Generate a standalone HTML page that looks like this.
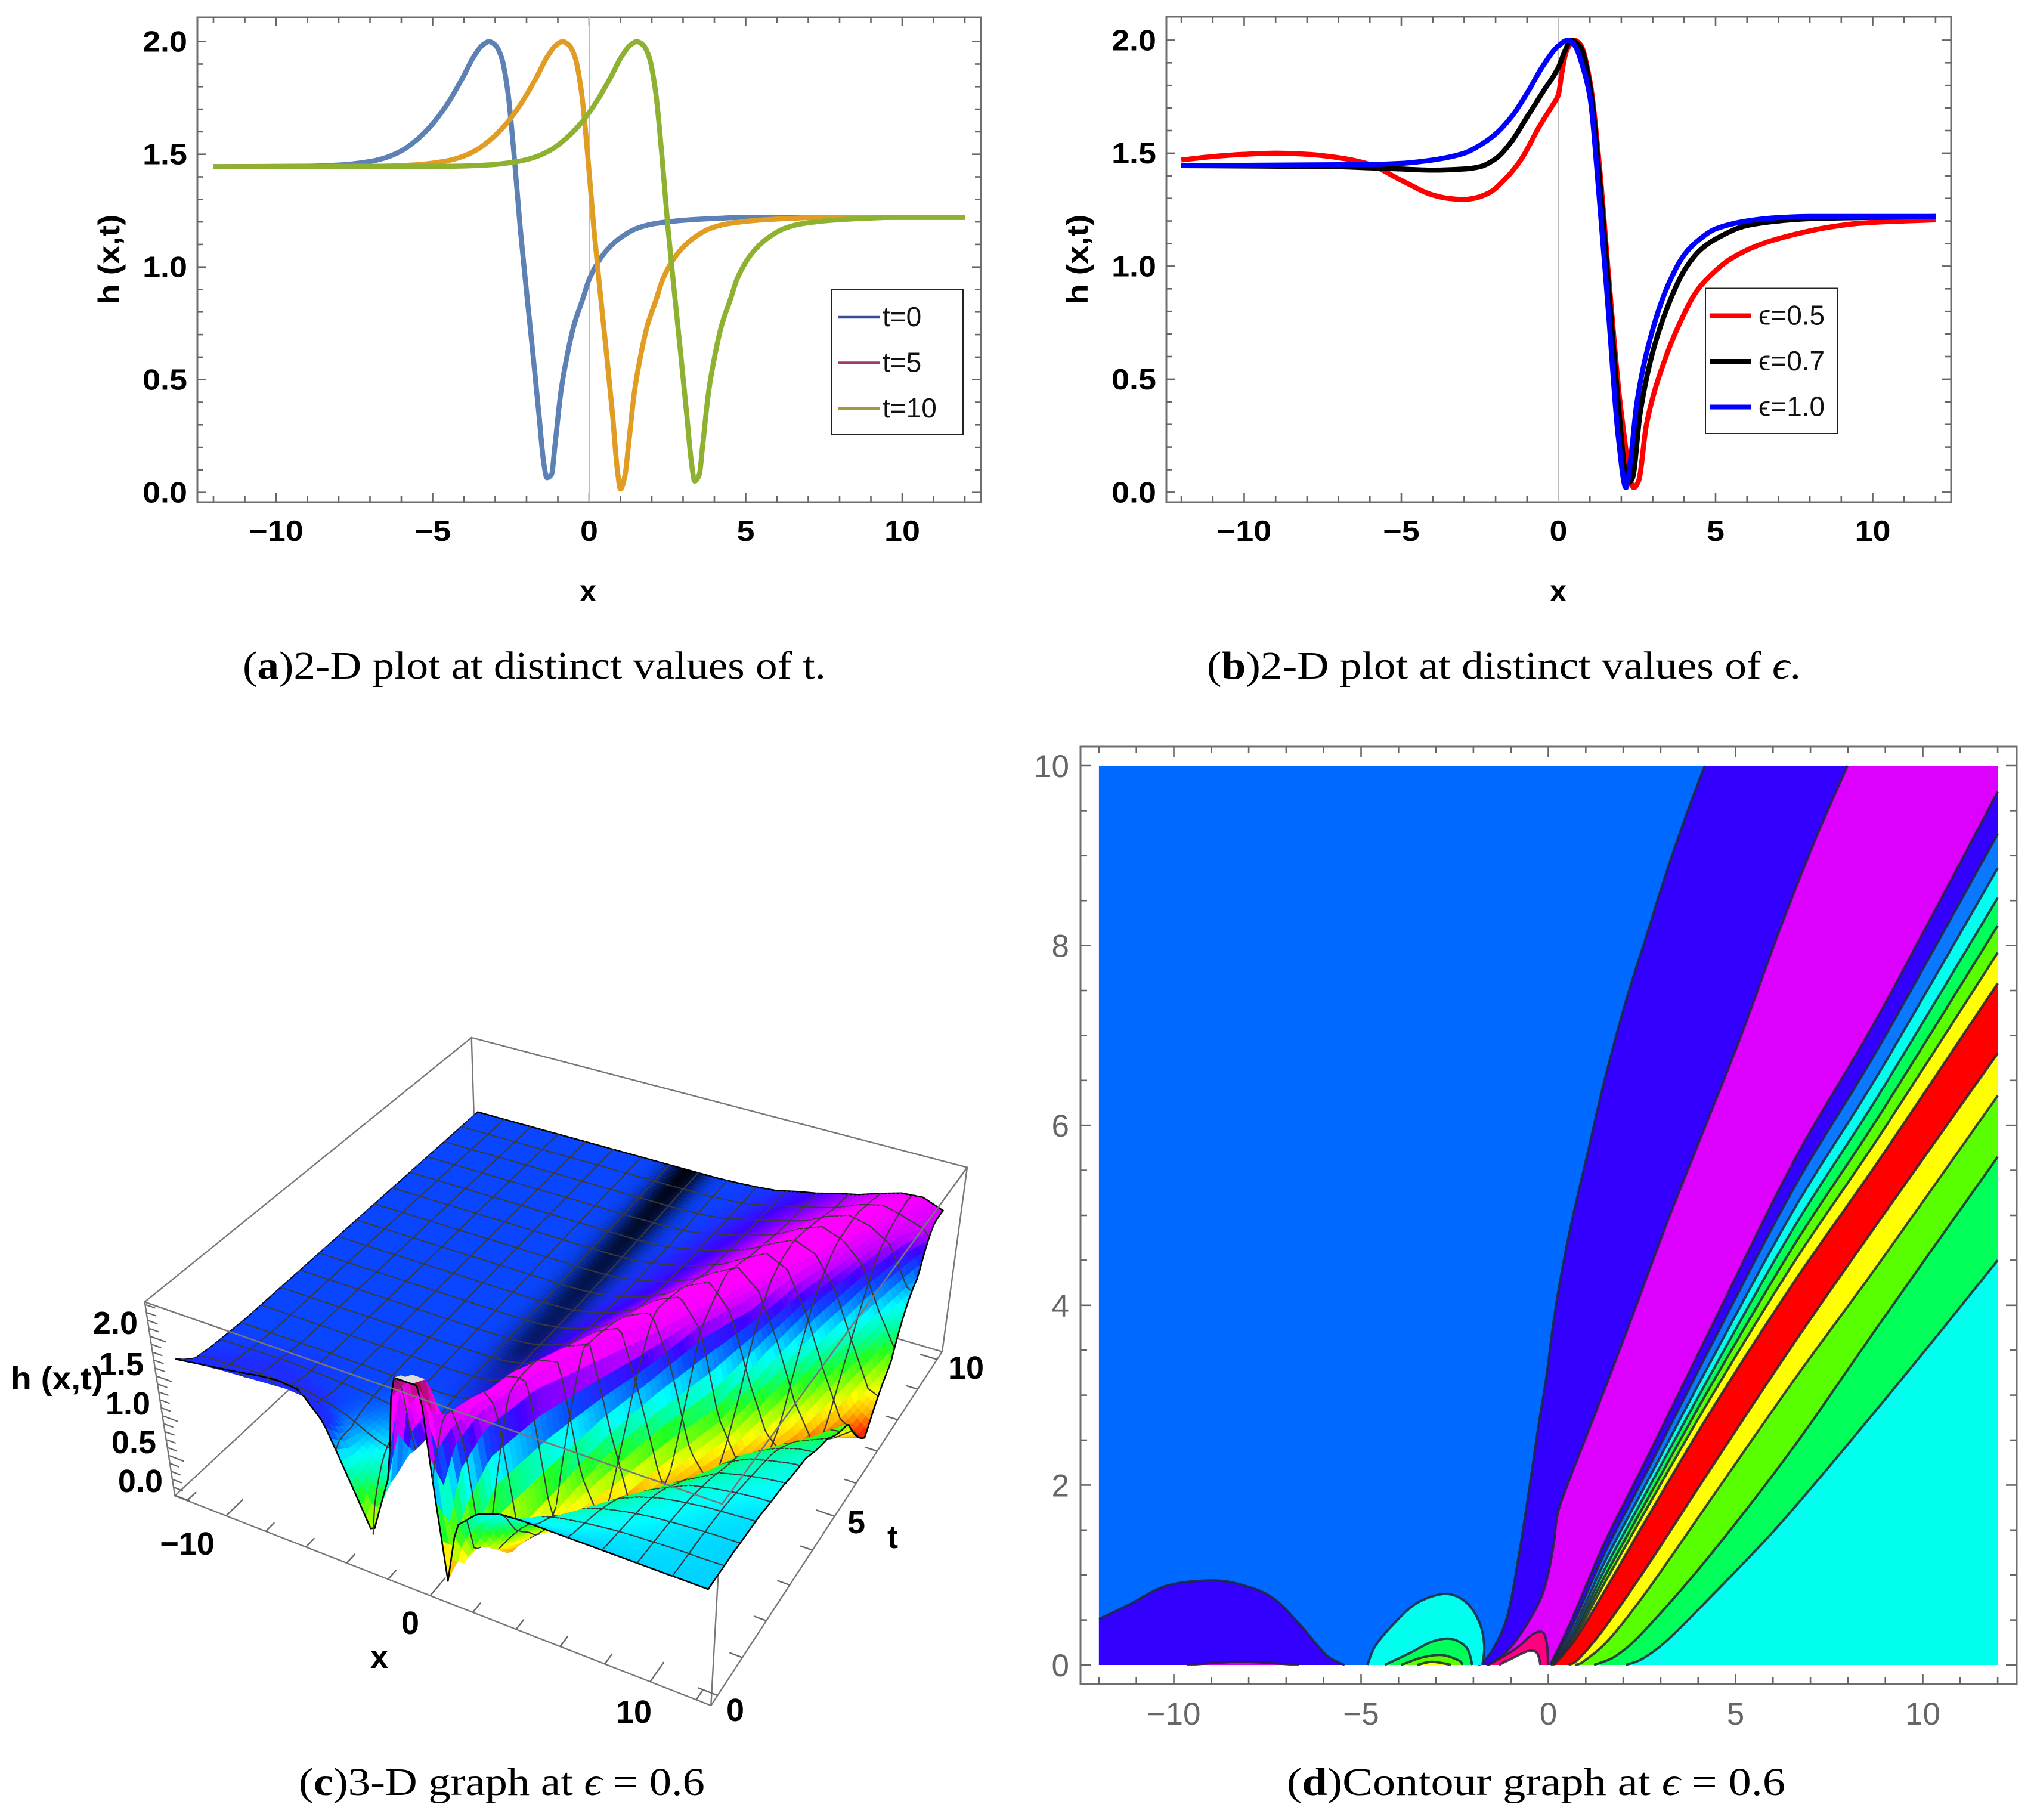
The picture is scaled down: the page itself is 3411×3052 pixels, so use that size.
<!DOCTYPE html>
<html lang="en"><head><meta charset="utf-8"><title>h(x,t) solution plots</title>
<style>
html,body{margin:0;padding:0;background:#fff}
svg{display:block}
.sb{font-family:"Liberation Sans",sans-serif;font-weight:700;fill:#000}
.sr{font-family:"Liberation Sans",sans-serif;fill:#111}
.cap{font-family:"Liberation Serif",serif;font-size:66px;fill:#000}
</style></head><body>
<svg id="root" xmlns="http://www.w3.org/2000/svg" width="3411" height="3052" viewBox="0 0 3411 3052">
<rect width="3411" height="3052" fill="#fff"/>
<g id="panelA">
  <text class="sb" font-size="50" text-anchor="middle" x="986" y="1008">x</text>
  <text class="sb" font-size="50" text-anchor="middle" textLength="151" lengthAdjust="spacingAndGlyphs" transform="translate(200,435) rotate(-90)">h (x,t)</text>
</g>
<g id="panelB">
  <text class="sb" font-size="50" text-anchor="middle" x="2613" y="1008">x</text>
  <text class="sb" font-size="50" text-anchor="middle" textLength="151" lengthAdjust="spacingAndGlyphs" transform="translate(1824,435) rotate(-90)">h (x,t)</text>
</g>
<g id="panelC"></g>
<g id="panelCText">
  <text class="sb" font-size="54" text-anchor="end" x="231" y="2237">2.0</text>
  <text class="sb" font-size="54" text-anchor="end" x="241" y="2306">1.5</text>
  <text class="sb" font-size="54" text-anchor="end" x="252" y="2372">1.0</text>
  <text class="sb" font-size="54" text-anchor="end" x="262" y="2437">0.5</text>
  <text class="sb" font-size="54" text-anchor="end" x="273" y="2502">0.0</text>
  <text class="sb" font-size="54" x="18" y="2330" textLength="155" lengthAdjust="spacingAndGlyphs">h (x,t)</text>
  <text class="sb" font-size="54" text-anchor="middle" x="314" y="2607">−10</text>
  <text class="sb" font-size="54" text-anchor="middle" x="688" y="2740">0</text>
  <text class="sb" font-size="54" text-anchor="middle" x="1063" y="2889">10</text>
  <text class="sb" font-size="54" text-anchor="middle" x="636" y="2797">x</text>
  <text class="sb" font-size="54" text-anchor="middle" x="1233" y="2886">0</text>
  <text class="sb" font-size="54" text-anchor="middle" x="1436" y="2571">5</text>
  <text class="sb" font-size="54" text-anchor="middle" x="1620" y="2312">10</text>
  <text class="sb" font-size="54" text-anchor="middle" x="1497" y="2596">t</text>
</g>
<g id="panelD"></g>
<text class="cap" x="407" y="1138" textLength="978" lengthAdjust="spacingAndGlyphs">(<tspan font-weight="700">a</tspan>)2-D plot at distinct values of t.</text>
<text class="cap" x="2024" y="1138" textLength="996" lengthAdjust="spacingAndGlyphs">(<tspan font-weight="700">b</tspan>)2-D plot at distinct values of <tspan font-style="italic">ϵ</tspan>.</text>
<text class="cap" x="501" y="3010" textLength="681" lengthAdjust="spacingAndGlyphs">(<tspan font-weight="700">c</tspan>)3-D graph at <tspan font-style="italic">ϵ</tspan> = 0.6</text>
<text class="cap" x="2158" y="3010" textLength="836" lengthAdjust="spacingAndGlyphs">(<tspan font-weight="700">d</tspan>)Contour graph at <tspan font-style="italic">ϵ</tspan> = 0.6</text>
</svg>
<script>
/* ---------- panel (a) series ---------- */
const t0X=[-12,-9,-8,-7,-6.5,-6,-5.5,-5,-4.5,-4,-3.7,-3.4,-3.2,-3,-2.8,-2.6,-2.4,-2.2,-2,-1.8,-1.6,-1.45,-1.35,-1.2,-1.1,-.9,-.7,-.5,-.2,0,.3,.6,1,1.5,2,2.5,3,4,5,7,12];
const t0Y=[1.445,1.447,1.452,1.468,1.485,1.515,1.565,1.635,1.73,1.85,1.93,1.985,2,1.985,1.93,1.78,1.5,1.17,.89,.62,.34,.13,.065,.08,.2,.45,.61,.735,.86,.945,1.025,1.08,1.13,1.17,1.19,1.2,1.207,1.215,1.22,1.22,1.22];
const t5X=[-12,-6.65,-5.65,-4.65,-4.15,-3.65,-3.15,-2.65,-2.15,-1.65,-1.35,-1.05,-.85,-.65,-.45,-.25,-.05,.15,.35,.55,.75,.9,1,1.15,1.25,1.45,1.65,1.85,2.15,2.35,2.65,2.95,3.35,3.85,4.35,4.85,5.35,6.35,7.35,9.35,12];
const t5Y=[1.445,1.447,1.452,1.468,1.485,1.515,1.565,1.635,1.73,1.85,1.93,1.985,2,1.985,1.93,1.78,1.5,1.17,.89,.62,.34,.1,.015,.08,.2,.45,.61,.735,.86,.945,1.025,1.08,1.13,1.17,1.19,1.2,1.207,1.215,1.22,1.22,1.22];
const t10X=[-12,-4.28,-3.28,-2.28,-1.78,-1.28,-.78,-.28,.22,.72,1.02,1.32,1.52,1.72,1.92,2.12,2.32,2.52,2.72,2.92,3.12,3.27,3.37,3.52,3.62,3.82,4.02,4.22,4.52,4.72,5.02,5.32,5.72,6.22,6.72,7.22,7.72,8.72,9.72,12];
const t10Y=[1.445,1.447,1.452,1.468,1.485,1.515,1.565,1.635,1.73,1.85,1.93,1.985,2,1.985,1.93,1.78,1.5,1.17,.89,.62,.34,.13,.05,.08,.2,.45,.61,.735,.86,.945,1.025,1.08,1.13,1.17,1.19,1.2,1.207,1.215,1.22,1.22];

/* ---------- panel (b) series ---------- */
const eps05X=[-12,-11,-10,-9,-8,-7,-6,-5,-4,-3.5,-3,-2.7,-2.2,-1.7,-1.2,-.6,-.2,0,.1,.25,.5,.7,1,1.3,1.6,2,2.4,2.55,2.8,3.37,3.9,4.4,5,5.45,6.5,7.5,8.5,9.6,11,12];
const eps05Y=[1.47,1.485,1.495,1.5,1.495,1.48,1.45,1.38,1.315,1.3,1.295,1.3,1.325,1.385,1.47,1.62,1.71,1.76,1.85,1.95,2,1.98,1.82,1.45,.95,.35,.02,.05,.3,.58,.76,.89,.98,1.03,1.1,1.14,1.17,1.19,1.2,1.205];
const eps07X=[-12,-7,-6,-5,-4,-3,-2.5,-2,-1.5,-1,-.5,0,.2,.4,.7,1,1.3,1.6,1.9,2.2,2.35,2.6,3,3.5,4,4.5,5,6,7,8,12];
const eps07Y=[1.445,1.44,1.435,1.43,1.425,1.43,1.44,1.475,1.55,1.66,1.77,1.88,1.95,2,1.97,1.8,1.4,.9,.4,.04,.06,.35,.62,.83,.98,1.07,1.12,1.18,1.2,1.21,1.22];
const eps10X=[-12,-6,-5,-4,-3,-2.5,-2,-1.5,-1,-.5,0,.3,.5,.8,1,1.3,1.6,1.9,2.15,2.3,2.5,3,3.5,4,4.5,5,6,7,8,12];
const eps10Y=[1.445,1.45,1.455,1.47,1.5,1.535,1.585,1.66,1.765,1.885,1.975,2,1.98,1.87,1.75,1.3,.78,.25,.02,.15,.4,.72,.92,1.05,1.12,1.165,1.2,1.215,1.22,1.22];

/* ---------- shared 2-D tick values ---------- */
const lineXTicks=[-12,-11,-10,-9,-8,-7,-6,-5,-4,-3,-2,-1,0,1,2,3,4,5,6,7,8,9,10,11,12];
const lineYTicks=[0,.1,.2,.3,.4,.5,.6,.7,.8,.9,1,1.1,1.2,1.3,1.4,1.5,1.6,1.7,1.8,1.9,2];
const lineXLabels=[-10,-5,0,5,10];
const lineYLabels=[0,.5,1,1.5,2];
const legendA=["t=0","t=5","t=10"];
const legendB=["ϵ=0.5","ϵ=0.7","ϵ=1.0"];

/* ---------- panel (c) surface: h(x,t) levels ---------- */
const surfaceX=[-12,-11,-10,-9,-8,-7,-6,-5,-4,-3,-2,-1.6,-1,-.4,0,.5,1,2,3,4,5,6,7,8,9,10,11,12];
const surfaceT=[0,.2,.5,1,2,3,4,5,6,7,8,9,10];
const surfaceRidge=[-.5,-.2,0,.5,1.5,2.6,3.7,4.9,6,7,8,9,10.8];
const surfaceLevels=[
[1.68,1.72,1.76,1.8,1.85,1.88,1.85,1.55,.95,.35,1.2,2.5,2.5,2.5,1.3,.12,.85,1.1,1.2,1.22,1.22,1.22,1.22,1.22,1.22,1.22,1.22,1.22],
[1.6,1.62,1.64,1.66,1.68,1.7,1.68,1.5,1.15,.8,1.1,2.2,2.5,2.5,1.6,.5,.3,.8,1.08,1.14,1.16,1.18,1.2,1.2,1.21,1.21,1.22,1.22],
[1.5,1.52,1.54,1.55,1.56,1.56,1.5,1.4,1.24,1.12,1.2,1.3,1.55,1.85,1.92,1.5,.45,.45,.8,1.05,1.1,1.14,1.17,1.19,1.2,1.21,1.21,1.22],
[1.47,1.48,1.49,1.5,1.49,1.47,1.45,1.43,1.38,1.3,1.38,1.42,1.47,1.62,1.75,1.97,1.8,.15,.55,.78,1,1.07,1.12,1.16,1.18,1.2,1.21,1.22],
[1.44,1.44,1.44,1.44,1.44,1.44,1.44,1.44,1.44,1.445,1.45,1.455,1.47,1.53,1.62,1.72,1.95,1.97,.45,.22,.6,.85,.98,1.07,1.12,1.16,1.18,1.2],
[1.44,1.44,1.44,1.44,1.44,1.44,1.44,1.44,1.44,1.445,1.45,1.452,1.46,1.485,1.51,1.58,1.68,1.92,2.03,.97,.12,.45,.68,.82,.98,1.05,1.1,1.14],
[1.44,1.44,1.44,1.44,1.44,1.44,1.44,1.44,1.44,1.44,1.445,1.448,1.455,1.47,1.49,1.53,1.58,1.7,1.92,2.05,1.3,.38,.12,.5,.8,.93,1,1.06],
[1.44,1.44,1.44,1.44,1.44,1.44,1.44,1.44,1.44,1.44,1.44,1.442,1.445,1.45,1.46,1.49,1.52,1.6,1.73,1.94,2.06,1.72,.7,.22,.27,.62,.76,.88],
[1.44,1.44,1.44,1.44,1.44,1.44,1.44,1.44,1.44,1.44,1.44,1.44,1.44,1.445,1.45,1.465,1.48,1.54,1.62,1.74,1.92,2.06,1.8,1.2,.5,.1,.38,.65],
[1.44,1.44,1.44,1.44,1.44,1.44,1.44,1.44,1.44,1.44,1.44,1.44,1.44,1.44,1.445,1.45,1.46,1.51,1.57,1.65,1.75,1.9,2.05,1.94,1.48,.85,.27,.05],
[1.44,1.44,1.44,1.44,1.44,1.44,1.44,1.44,1.44,1.44,1.44,1.44,1.44,1.44,1.44,1.445,1.45,1.47,1.53,1.59,1.67,1.77,1.92,2.03,1.93,1.67,1.12,.6],
[1.44,1.44,1.44,1.44,1.44,1.44,1.44,1.44,1.44,1.44,1.44,1.44,1.44,1.44,1.44,1.44,1.445,1.455,1.49,1.55,1.62,1.68,1.75,1.88,1.97,1.92,1.79,1.33],
[1.44,1.44,1.44,1.44,1.44,1.44,1.44,1.44,1.44,1.44,1.44,1.44,1.44,1.44,1.44,1.44,1.44,1.45,1.465,1.49,1.55,1.6,1.67,1.73,1.82,1.9,1.92,1.82]
];
const surfaceXTicks=[-12,-10,-8,-6,-4,-2,0,2,4,6,8,10,12];
const surfaceXMajor=[-10,0,10];
const surfaceTTicks=[0,1,2,3,4,5,6,7,8,9,10];
const surfaceTMajor=[0,5,10];
const surfaceZTicks=[0,.1,.2,.3,.4,.5,.6,.7,.8,.9,1,1.1,1.2,1.3,1.4,1.5,1.6,1.7,1.8,1.9,2,2.1,2.2,2.3,2.4];
const surfaceZMajor=[0,.5,1,1.5,2];

/* ---------- panel (d) contours: [x,t] ---------- */
const contourBlueIndigo=[[4.18,10],[3.76,9.54],[3.19,8.86],[2.63,8.12],[2.07,7.38],[1.5,6.5],[1.05,5.69],[.63,4.94],[.34,4.33],[.13,3.79],[-.06,3.18],[-.27,2.64],[-.53,1.9],[-.81,1.16],[-1.09,.55],[-1.43,.21],[-1.72,.04],[-1.88,0]];
const contourIndigoMagenta=[[7.99,10],[7.15,9.2],[6.2,8.2],[5.15,7],[4.2,6],[3.19,4.94],[2.29,3.93],[1.61,3.18],[1.05,2.58],[.6,2.1],[.26,1.7],[.15,1.36],[0,1.02],[-.19,.75],[-.53,.48],[-.98,.21],[-1.43,.04],[-1.66,0]];
const contourMagentaIndigo=[[12,9.71],[8.84,7.24],[6.58,5.62],[4.32,3.73],[2.63,2.3],[1.5,1.36],[.6,.48],[.05,0]];
const contourIndigoBlue=[[12,9.24],[8.84,6.88],[6.58,5.32],[4.32,3.53],[2.63,2.15],[1.5,1.24],[.65,.44],[.06,0]];
const contourBlueCyan=[[12,8.86],[8.84,6.59],[6.58,5.08],[4.32,3.36],[2.63,2.03],[1.5,1.14],[.68,.4],[.07,0]];
const contourCyanGreen=[[12,8.53],[8.84,6.35],[6.58,4.88],[4.32,3.22],[2.63,1.93],[1.5,1.06],[.7,.37],[.09,0]];
const contourGreenLime=[[12,8.22],[8.84,6.11],[6.58,4.68],[4.32,3.09],[2.63,1.83],[1.5,.98],[.7,.34],[.11,0]];
const contourLimeYellow=[[12,7.92],[8.84,5.88],[6.58,4.49],[4.32,2.96],[2.63,1.74],[1.5,.91],[.71,.31],[.13,0]];
const contourYellowRed=[[12,7.58],[8.84,5.62],[6.58,4.27],[4.32,2.81],[2.63,1.63],[1.5,.82],[.71,.28],[.15,0]];
const contourRedYellow=[[12,6.8],[8.84,4.94],[6.58,3.59],[4.32,2.17],[2.63,1.09],[1.5,.41],[.82,.07],[.54,0]];
const contourYellowLime=[[12,6.33],[8.84,4.47],[6.58,3.18],[4.32,1.83],[2.63,.82],[1.61,.28],[.94,.04],[.71,0]];
const contourLimeGreen=[[12,5.65],[8.84,3.79],[6.58,2.44],[4.32,1.22],[2.63,.41],[1.84,.11],[1.22,0]];
const contourGreenCyan=[[12,4.5],[9.97,3.45],[7.71,2.31],[6.02,1.49],[4.32,.75],[3.19,.28],[2.52,.07],[2.07,0]];
const blobHump=[[-12,.51],[-11.2,.67],[-10.2,.88],[-9,.94],[-8.18,.89],[-7.37,.75],[-6.66,.46],[-6.15,.21],[-5.84,.08],[-5.44,0]];
const blobSliver=[[-9.65,0],[-8.2,.035],[-6.66,0]];
const blobCyan=[[-4.83,0],[-4.62,.21],[-4.12,.46],[-3.5,.69],[-2.74,.79],[-2.18,.69],[-1.83,.46],[-1.71,.21],[-1.76,0]];
const blobGreen=[[-4.37,0],[-3.71,.13],[-3.1,.26],[-2.59,.29],[-2.18,.19],[-2.03,0]];
const blobLime=[[-3.93,0],[-3.4,.08],[-2.85,.11],[-2.39,.05],[-2.29,0]];
const blobYellow=[[-3.5,0],[-3.1,.035],[-2.59,0]];
const blobPink=[[-1.6,0],[-1.43,.04],[-.87,.18],[-.42,.34],[-.14,.36],[-.03,.21],[-.01,0]];
const blobWhite=[[-1.32,0],[-.98,.07],[-.53,.155],[-.3,.13],[-.21,0]];
const contourXTicks=[-12,-11,-10,-9,-8,-7,-6,-5,-4,-3,-2,-1,0,1,2,3,4,5,6,7,8,9,10,11,12];
const contourTTicks=[0,.5,1,1.5,2,2.5,3,3.5,4,4.5,5,5.5,6,6.5,7,7.5,8,8.5,9,9.5,10];
const contourXLabels=[-10,-5,0,5,10];
const contourTLabels=[0,2,4,6,8,10];

const NS='http://www.w3.org/2000/svg';
function make(tag,parent){const e=document.createElementNS(NS,tag);parent.appendChild(e);return e;}
function fmtMinus(v){return String(v).replace('-','−');}
function smoothD(P){
  let d='M'+P[0][0].toFixed(1)+' '+P[0][1].toFixed(1);
  for(let i=0;i<P.length-1;i++){
    const a=P[Math.max(i-1,0)],b=P[i],c=P[i+1],e=P[Math.min(i+2,P.length-1)];
    d+=' C'+(b[0]+(c[0]-a[0])/6).toFixed(1)+' '+(b[1]+(c[1]-a[1])/6).toFixed(1)+' '+(c[0]-(e[0]-b[0])/6).toFixed(1)+' '+(c[1]-(e[1]-b[1])/6).toFixed(1)+' '+c[0].toFixed(1)+' '+c[1].toFixed(1);
  }
  return d;
}
/* shape-preserving curve through the points of a function graph */
function monoD(P){
  const n=P.length,h=[],s=[],m=new Array(n);
  for(let i=0;i<n-1;i++){h.push(P[i+1][0]-P[i][0]);s.push((P[i+1][1]-P[i][1])/h[i]);}
  m[0]=s[0];m[n-1]=s[n-2];
  for(let i=1;i<n-1;i++){
    if(s[i-1]*s[i]<=0){m[i]=0;}
    else{const w1=2*h[i]+h[i-1],w2=h[i]+2*h[i-1];m[i]=(w1+w2)/(w1/s[i-1]+w2/s[i]);}
  }
  let d='M'+P[0][0].toFixed(1)+' '+P[0][1].toFixed(1);
  for(let i=0;i<n-1;i++){
    d+=' C'+(P[i][0]+h[i]/3).toFixed(1)+' '+(P[i][1]+m[i]*h[i]/3).toFixed(1)+' '+(P[i+1][0]-h[i]/3).toFixed(1)+' '+(P[i+1][1]-m[i+1]*h[i]/3).toFixed(1)+' '+P[i+1][0].toFixed(1)+' '+P[i+1][1].toFixed(1);
  }
  return d;
}
function drawTick(g,x1,y1,x2,y2,w,col){
  const l=make('line',g);
  l.setAttribute('x1',x1);l.setAttribute('y1',y1);l.setAttribute('x2',x2);l.setAttribute('y2',y2);
  l.setAttribute('stroke',col||'#666');l.setAttribute('stroke-width',w||2.6);
  
  
}
function drawFrame(g,L,T,R,B,w){
  const r=make('rect',g);
  r.setAttribute('x',L);r.setAttribute('y',T);r.setAttribute('width',R-L);r.setAttribute('height',B-T);
  r.setAttribute('fill','none');r.setAttribute('stroke','#6e6e6e');r.setAttribute('stroke-width',w||3);
  
  
}
function drawLabel(g,x,y,s,anchor,size,cls,fill,stretch){
  const t=make('text',g);
  t.setAttribute('transform','translate('+x+','+y+') scale('+(stretch||1)+',1)');
  t.setAttribute('text-anchor',anchor);
  t.setAttribute('font-size',size);t.setAttribute('class',cls);
  if(fill)t.setAttribute('style','fill:'+fill);
  t.textContent=s;
  
  
}
function drawSeries(g,xs,ys,sx,sy,color,width,seriesName){
  const p=make('path',g);
  p.setAttribute('d',monoD(xs.map((x,i)=>[sx(x),sy(ys[i])])));
  p.setAttribute('fill','none');p.setAttribute('stroke',color);p.setAttribute('stroke-width',width);
  p.setAttribute('stroke-linejoin','round');
  
  
}
function axes2D(g,F,sx,sy){
  drawFrame(g,F.L,F.T,F.R,F.B);
  lineXTicks.forEach(v=>{
    const len=(v%5===0)?15:10,x=sx(v);
    drawTick(g,x,F.B,x,F.B-len);
    drawTick(g,x,F.T,x,F.T+len);
  });
  lineYTicks.forEach(v=>{
    const major=Math.abs(v*2-Math.round(v*2))<1e-6,len=major?15:10,y=sy(v);
    drawTick(g,F.L,y,F.L+len,y);
    drawTick(g,F.R,y,F.R-len,y);
  });
  const z=make('line',g);
  z.setAttribute('x1',sx(0));z.setAttribute('x2',sx(0));z.setAttribute('y1',F.T);z.setAttribute('y2',F.B);
  z.setAttribute('stroke','#bdbdbd');z.setAttribute('stroke-width',2);
  
  
  lineXLabels.forEach(v=>drawLabel(g,sx(v),F.B+65,fmtMinus(v),'middle',49,'sb',null,1.1));
  lineYLabels.forEach(v=>drawLabel(g,F.L-17,sy(v)+17,v.toFixed(1),'end',49,'sb',null,1.1));
}
function drawLegend(g,box,labels,colors,lw,textX,size){
  const r=make('rect',g);
  r.setAttribute('x',box.L);r.setAttribute('y',box.T);r.setAttribute('width',box.R-box.L);r.setAttribute('height',box.B-box.T);
  r.setAttribute('fill','#fff');r.setAttribute('stroke','#222');r.setAttribute('stroke-width',2);
  
  
  labels.forEach((s,i)=>{
    const y=box.y0+i*box.dy;
    const l=make('line',g);
    l.setAttribute('x1',box.x1);l.setAttribute('x2',box.x2);l.setAttribute('y1',y);l.setAttribute('y2',y);
    l.setAttribute('stroke',colors[i]);l.setAttribute('stroke-width',lw);
    
    
    const t=make('text',g);
    t.setAttribute('x',textX);t.setAttribute('y',y+15);t.setAttribute('font-size',size);t.setAttribute('class','sr');
    t.textContent=s;
    
    
  });
}

/* panel a */
(function(){
  const g=document.getElementById('panelA');
  const F={L:331,T:29,R:1645,B:842};
  const sx=v=>988+52.5*v, sy=v=>825.7-378*v;
  axes2D(g,F,sx,sy);
  drawSeries(g,t0X,t0Y,sx,sy,'#5E81B5',8.5,'series-t0');
  drawSeries(g,t5X,t5Y,sx,sy,'#E19C24',8.5,'series-t5');
  drawSeries(g,t10X,t10Y,sx,sy,'#8FB131',8.5,'series-t10');
  drawLegend(g,{L:1394,T:486,R:1615,B:728,x1:1406,x2:1475,y0:532,dy:76.5},legendA,['#3d4a9a','#a03a6e','#a09a3c'],4.5,1480,46);
})();
/* panel b */
(function(){
  const g=document.getElementById('panelB');
  const F={L:1956,T:28,R:3272,B:842};
  const sx=v=>2613.5+52.7*v, sy=v=>825.4-379*v;
  axes2D(g,F,sx,sy);
  drawSeries(g,eps05X,eps05Y,sx,sy,'#ff0000',8.5,'series-eps-0-5');
  drawSeries(g,eps07X,eps07Y,sx,sy,'#000000',8.5,'series-eps-0-7');
  drawSeries(g,eps10X,eps10Y,sx,sy,'#0000ff',8.5,'series-eps-1-0');
  drawLegend(g,{L:2860,T:483.5,R:3081,B:727,x1:2868,x2:2936,y0:529.5,dy:76.5},legendB,['#ff0000','#000000','#0000ff'],8,2949,46);
})();

/* panel d */
(function(){
  const g=document.getElementById('panelD');
  const sx=v=>2596.5+62.8*v, st=v=>2792-150.8*v;
  const F={L:1812,T:1252,R:3382,B:2824};
  const bg=make('rect',g);
  bg.setAttribute('x',sx(-12));bg.setAttribute('y',st(10));bg.setAttribute('width',sx(12)-sx(-12));bg.setAttribute('height',st(0)-st(10));
  bg.setAttribute('fill','#0069ff');
  
  
  function smooth(pts){return smoothD(pts.map(p=>[sx(p[0]),st(p[1])]));}
  function region(pts,closing,fill){
    const d=smooth(pts);
    const f=make('path',g);
    f.setAttribute('d',d+closing.map(p=>' L'+sx(p[0]).toFixed(1)+' '+st(p[1]).toFixed(1)).join('')+' Z');
    f.setAttribute('fill',fill);
    
    
    const s=make('path',g);
    s.setAttribute('d',d);s.setAttribute('fill','none');s.setAttribute('stroke','#23263a');
    s.setAttribute('stroke-opacity','.85');s.setAttribute('stroke-width',4);
    
    
  }
  region(blobHump,[[-12,0]],'#3300ff');
  region(blobSliver,[],'#d000ff');
  region(contourBlueIndigo,[[12,0],[12,10]],'#3300ff');
  region(contourIndigoMagenta,[[12,0],[12,10]],'#dd00ff');
  region(blobPink,[],'#ff0080');
  region(blobWhite,[],'#ffffff');
  region(contourMagentaIndigo,[[12,0]],'#3300ff');
  region(contourIndigoBlue,[[12,0]],'#0a78ff');
  region(contourBlueCyan,[[12,0]],'#00ffee');
  region(contourCyanGreen,[[12,0]],'#00ff58');
  region(contourGreenLime,[[12,0]],'#58ff00');
  region(contourLimeYellow,[[12,0]],'#ffff00');
  region(contourYellowRed,[[12,0]],'#ff0000');
  region(contourRedYellow,[[12,0]],'#ffff00');
  region(contourYellowLime,[[12,0]],'#58ff00');
  region(contourLimeGreen,[[12,0]],'#00ff58');
  region(contourGreenCyan,[[12,0]],'#00ffee');
  region(blobCyan,[],'#00ffee');
  region(blobGreen,[],'#00ff58');
  region(blobLime,[],'#58ff00');
  region(blobYellow,[],'#ffff00');
  drawFrame(g,F.L,F.T,F.R,F.B,3);
  contourXTicks.forEach(v=>{
    const len=(v%5===0)?17:11,x=sx(v);
    drawTick(g,x,F.B,x,F.B-len,2.6);
    drawTick(g,x,F.T,x,F.T+len,2.6);
  });
  contourTTicks.forEach(v=>{
    const len=(v%2===0)?18:11,y=st(v);
    drawTick(g,F.L,y,F.L+len,y,2.6);
    drawTick(g,F.R,y,F.R-len,y,2.6);
  });
  contourXLabels.forEach(v=>drawLabel(g,sx(v),2892,fmtMinus(v),'middle',53,'sr','#666'));
  contourTLabels.forEach(v=>drawLabel(g,1793,st(v)+19,String(v),'end',53,'sr','#666'));
})();

/* panel c */
(function(){
  const g=document.getElementById('panelC');
  const A=[293.3,2508.3],B=[1192.3,2860],C=[1580,2266.7],D=[800,2037];
  const A2=[242.7,2183.3],B2=[1211,2522],C2=[1622,1957.7],D2=[790.7,1740];
  const warpX=u=>u/(u+1.1*(1-u));
  const warpT=v=>v/(v+.87*(1-v));
  const pad=.025,Zslope=.41,Zmax=2.44,backLift=.04;
  function project(x,t,w){
    const u=warpX(pad+(1-2*pad)*(x+12)/24),v=warpT(pad+(1-2*pad)*t/10);
    const out=[0,0];
    for(let k=0;k<2;k++){
      const f=(A[k]*(1-u)+B[k]*u)*(1-v)+(D[k]*(1-u)+C[k]*u)*v;
      const c=(A2[k]*(1-u)+B2[k]*u)*(1-v)+(D2[k]*(1-u)+C2[k]*u)*v;
      out[k]=f*(1-w)+c*w;
    }
    return out;
  }
  function locate(arr,v){
    const c=Math.max(arr[0],Math.min(arr[arr.length-1],v));
    let i=0;while(i<arr.length-2&&c>arr[i+1])i++;
    return [i,(c-arr[i])/(arr[i+1]-arr[i])];
  }
  function rowAt(j,x){
    const [i,a]=locate(surfaceX,x),r=surfaceLevels[j];
    return r[i]*(1-a)+r[i+1]*a;
  }
  function ridgeAt(t){
    const [j,b]=locate(surfaceT,t);
    return surfaceRidge[j]*(1-b)+surfaceRidge[j+1]*b;
  }
  function level(x,t){
    const [j,b]=locate(surfaceT,t);
    const p=ridgeAt(t);
    return rowAt(j,x-p+surfaceRidge[j])*(1-b)+rowAt(j+1,x-p+surfaceRidge[j+1])*b;
  }
  function surfacePoint(x,t,l){
    return project(x,t,Math.min(l,Zmax)*Zslope+backLift*t/10);
  }
  const colorLevels=[0,.12,.25,.4,.55,.75,.95,1.15,1.3,1.44,1.6,1.75,1.95,2.1,2.44];
  const colorValues=[[150,40,0],[255,48,0],[255,176,0],[255,255,0],[160,255,0],[32,255,32],[0,255,160],[0,255,255],[0,160,255],[10,70,255],[64,0,255],[192,0,255],[255,0,255],[255,0,255],[150,16,64]];
  function colorFor(l,x,t,clipped){
    if(clipped)return 'rgb(221,221,221)';
    let c=l;
    if(x<-4.5&&c>1.5)c=1.5;
    let i=0;while(i<colorLevels.length-2&&c>colorLevels[i+1])i++;
    const a=Math.max(0,Math.min(1,(c-colorLevels[i])/(colorLevels[i+1]-colorLevels[i])));
    const s=colorValues[i],e=colorValues[i+1];
    const strength=Math.max(0,Math.min(1,(t-1.5)/2))*(.35+.6*t/10);
    const dark=1-strength*Math.exp(-Math.pow((x+.5)/1.05,2));
    return 'rgb('+[0,1,2].map(k=>Math.round((s[k]*(1-a)+e[k]*a)*dark)).join(',')+')';
  }
  function edge(p,q,w,col,nm){
    const l=make('line',g);
    l.setAttribute('x1',p[0]);l.setAttribute('y1',p[1]);l.setAttribute('x2',q[0]);l.setAttribute('y2',q[1]);
    l.setAttribute('stroke',col);l.setAttribute('stroke-width',w);l.setAttribute('stroke-linecap','round');
    
    
  }
  const boxCol='#777';
  [[A,B],[B,C],[C,D],[D,A],[A2,D2],[D2,C2],[A,A2],[B,B2],[C,C2],[D,D2]].forEach(e=>edge(e[0],e[1],2.4,boxCol,'box-edge'));
  /* axis ticks */
  surfaceXTicks.forEach(v=>{
    const p=project(v,-.25,0);
    const q=project(v,surfaceXMajor.includes(v)?.25:.0,0);
    edge(p,q,2.4,'#666','x-tick');
  });
  surfaceTTicks.forEach(v=>{
    const p=project(12.6,v,0);
    const q=project(surfaceTMajor.includes(v)?11.8:12.1,v,0);
    edge(p,q,2.4,'#666','t-tick');
  });
  surfaceZTicks.forEach(v=>{
    const p=project(-12.6,-.25,v*Zslope);
    const q=project(surfaceZMajor.includes(v)?-11.9:-12.2,-.25,v*Zslope);
    edge(p,q,2.2,'#666','z-tick');
  });
  /* surface grid: columns follow the travelling wave, so cells line up with the wall */
  const Mesh=16,Sub=6,Nt=Mesh*Sub,dXi=.2;
  const xi0=surfaceX[0]-surfaceRidge[surfaceRidge.length-1]-.2;
  const xi1=surfaceX[surfaceX.length-1]-surfaceRidge[0]+.2;
  const Nc=Math.ceil((xi1-xi0)/dXi);
  const nx=[],lev=[],pts=[];
  for(let j=0;j<=Nt;j++){
    const t=10*j/Nt,r=ridgeAt(t);
    nx.push([]);lev.push([]);pts.push([]);
    for(let i=0;i<=Nc;i++){
      const x=Math.max(-12,Math.min(12,xi0+i*dXi+r));
      const l=level(x,t);
      nx[j].push(x);lev[j].push(l);pts[j].push(surfacePoint(x,t,l));
    }
  }
  /* painter's order, far to near */
  for(let j=Nt-1;j>=0;j--){
    const t0=10*j/Nt,t1=10*(j+1)/Nt,tm=(t0+t1)/2,rm=ridgeAt(tm);
    const meshAt={};
    for(let k=1;k<Mesh;k++){
      const X=-12+24*k/Mesh;
      const idx=Math.floor((X-rm-xi0)/dXi)+1;
      (meshAt[idx]=meshAt[idx]||[]).push(X);
    }
    let first=true;
    for(let i=0;i<Nc;i++){
      const same0=nx[j][i]===nx[j][i+1],same1=nx[j+1][i]===nx[j+1][i+1];
      if(!(same0&&same1)){
        const l00=lev[j][i],l10=lev[j][i+1],l11=lev[j+1][i+1],l01=lev[j+1][i];
        const a=pts[j][i],b=pts[j][i+1],c=pts[j+1][i+1],d=pts[j+1][i];
        const clipped=Math.min(l00,l10,l11,l01)>=Zmax;
        const midX=(nx[j][i]+nx[j][i+1]+nx[j+1][i]+nx[j+1][i+1])/4;
        const col=colorFor((l00+l10+l11+l01)/4,midX,tm,clipped);
        const q=make('polygon',g);
        q.setAttribute('points',[a,b,c,d].map(p=>p[0].toFixed(1)+','+p[1].toFixed(1)).join(' '));
        q.setAttribute('fill',col);q.setAttribute('stroke',col);q.setAttribute('stroke-width',1);
        q.setAttribute('stroke-linejoin','round');
        
        
        if(first){edge(surfacePoint(-12,t0,level(-12,t0)),surfacePoint(-12,t1,level(-12,t1)),2.4,'#0a0a30','surface-edge');first=false;}
        if(!same1){
          if(j===Nt-1)edge(d,c,2.6,'#000','surface-edge');
          else if((j+1)%Sub===0)edge(d,c,2.2,'#3a3a3a','mesh-line');
        }
        if(j===0&&!same0)edge(a,b,2.6,'#000','surface-edge');
      }
      (meshAt[i]||[]).forEach(X=>{
        edge(surfacePoint(X,t0,level(X,t0)),surfacePoint(X,t1,level(X,t1)),2.2,'#3a3a3a','mesh-line');
      });
    }
    edge(surfacePoint(12,t0,level(12,t0)),surfacePoint(12,t1,level(12,t1)),2.6,'#000','surface-edge');
  }
  /* front top edges of the box pass over the surface */
  edge(A2,B2,2.6,'#777','box-edge');
  edge(B2,C2,2.6,'#777','box-edge');
})();
</script>
</body></html>
